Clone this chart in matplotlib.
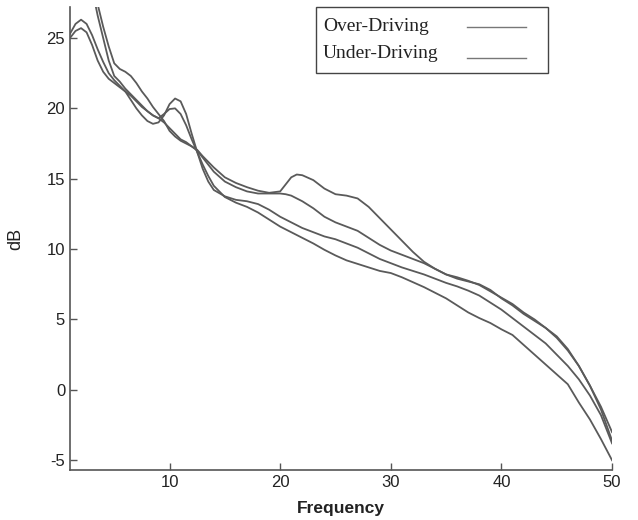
import matplotlib
matplotlib.use("Agg")
import matplotlib.pyplot as plt
from matplotlib.patches import Rectangle
from matplotlib.lines import Line2D

plt.rcParams['axes.unicode_minus'] = False

freq = [1, 1.5, 2, 2.5, 3, 3.5, 4, 4.5, 5, 5.5, 6, 6.5, 7, 7.5, 8, 8.5, 9, 9.5, 10, 10.5,
        11, 11.5, 12, 12.5, 13, 13.5, 14, 15, 16, 17, 18, 19, 20, 20.5, 21, 21.5, 22, 23, 24, 25,
        26, 27, 28, 29, 30, 31, 32, 33, 34, 35, 36, 37, 38, 39, 40, 41, 42, 43, 44, 45,
        46, 47, 48, 49, 50]

over_1 = [36, 34.5, 33, 31.5, 29.5, 27.4, 25.8, 24.4, 23.2, 22.8, 22.6, 22.3, 21.8, 21.2, 20.7, 20.1, 19.6, 19.1, 18.4, 18.0,
          17.7, 17.5, 17.3, 17.05, 16.6, 16.2, 15.8, 15.1, 14.7, 14.4, 14.15, 14.0, 14.1, 14.6, 15.1, 15.3, 15.25, 14.9, 14.3, 13.9,
          13.8, 13.6, 13.0, 12.2, 11.4, 10.6, 9.8, 9.1, 8.6, 8.2, 7.9, 7.7, 7.5, 7.1, 6.5, 6.0, 5.4, 4.9, 4.4, 3.8,
          2.9, 1.7, 0.3, -1.2, -3.0]

under_1 = [25.0, 25.5, 25.7, 25.4, 24.5, 23.4, 22.6, 22.1, 21.8, 21.5, 21.2, 20.9, 20.5, 20.1, 19.8, 19.5, 19.3, 19.0, 18.6, 18.2,
           17.8, 17.6, 17.3, 17.0, 16.5, 16.0, 15.5, 14.8, 14.4, 14.1, 13.95, 13.95, 13.95, 13.9, 13.8, 13.6, 13.4, 12.9, 12.3, 11.9,
           11.6, 11.3, 10.8, 10.3, 9.9, 9.6, 9.3, 9.0, 8.6, 8.2, 8.0, 7.75, 7.45, 7.0, 6.55, 6.1, 5.5, 5.0, 4.4, 3.7,
           2.8, 1.7, 0.3, -1.4, -3.6]

over_2 = [25.3, 26.0, 26.3, 26.0, 25.2, 24.2, 23.3, 22.5, 22.0, 21.6, 21.2, 20.6, 20.0, 19.5, 19.1, 18.9, 19.0, 19.5, 20.3, 20.7,
          20.5, 19.6, 18.2, 16.9, 15.7, 14.8, 14.2, 13.75, 13.5, 13.4, 13.2, 12.8, 12.3, 12.1, 11.9, 11.7, 11.5, 11.2, 10.9, 10.7,
          10.4, 10.1, 9.7, 9.3, 9.0, 8.7, 8.45, 8.2, 7.9, 7.6, 7.35, 7.05, 6.7, 6.2, 5.7, 5.1, 4.5, 3.9, 3.3, 2.5,
          1.7, 0.75, -0.4, -1.8, -3.8]

under_2 = [37, 35, 33.5, 31.5, 28.5, 26.6, 25.0, 23.4, 22.3, 21.9, 21.4, 21.0, 20.6, 20.2, 19.8, 19.5, 19.3, 19.6, 19.95, 20.0,
           19.6, 18.8, 17.8, 16.9, 16.0, 15.2, 14.5, 13.7, 13.3, 13.0, 12.6, 12.1, 11.6, 11.4, 11.2, 11.0, 10.8, 10.4, 9.95, 9.55,
           9.2, 8.95, 8.7, 8.45, 8.3, 8.0, 7.65, 7.3, 6.9, 6.5, 6.0, 5.5, 5.1, 4.75, 4.3, 3.9, 3.2, 2.5, 1.8, 1.1,
           0.4, -0.9, -2.1, -3.5, -5.0]

legend_labels = ["Over-Driving", "Under-Driving"]
series = [over_1, under_1, over_2, under_2]

line_color = "#5a5a5a"
axis_color = "#555555"

fig = plt.figure(figsize=(6.38, 5.2), dpi=100)
ax = fig.add_axes([0.1097, 0.096, 0.8496, 0.8905])

for vals in series:
    ax.plot(freq, vals, color=line_color, lw=1.3)

ax.set_xlim(1, 50)
ax.set_ylim(-5.7, 27.2)
ax.set_xticks([10, 20, 30, 40, 50])
ax.set_yticks([-5, 0, 5, 10, 15, 20, 25])

for side in ("top", "right"):
    ax.spines[side].set_visible(False)
for side in ("left", "bottom"):
    ax.spines[side].set_color(axis_color)
    ax.spines[side].set_linewidth(1.2)

ax.tick_params(direction="in", length=5, width=1, colors=axis_color,
               labelcolor="#222222", labelsize=12)
for t in ax.get_xticklabels() + ax.get_yticklabels():
    t.set_fontfamily("Liberation Sans")

ax.set_xlabel("Frequency", fontsize=12.5, fontweight="bold", family="Liberation Sans",
              color="#222222", labelpad=8)
ax.set_ylabel("dB", fontsize=13, family="Liberation Sans", color="#222222", labelpad=16)

# legend box: text left-aligned, line samples on the right
ax.add_patch(Rectangle((0.454, 0.857), 0.428, 0.143, transform=ax.transAxes,
                       facecolor="white", edgecolor="#444444", lw=1.0, zorder=5,
                       clip_on=False))
text_y = [0.958, 0.899]
line_y = [0.956, 0.889]
for lab, ty, ly in zip(legend_labels, text_y, line_y):
    ax.text(0.467, ty, lab, transform=ax.transAxes, ha="left", va="center",
            family="Liberation Serif", fontsize=14, color="#222222", zorder=6)
    ax.add_line(Line2D([0.732, 0.841], [ly, ly], transform=ax.transAxes,
                       color="#777777", lw=1.0, zorder=6, clip_on=False))

fig.savefig("out.png", dpi=100)
